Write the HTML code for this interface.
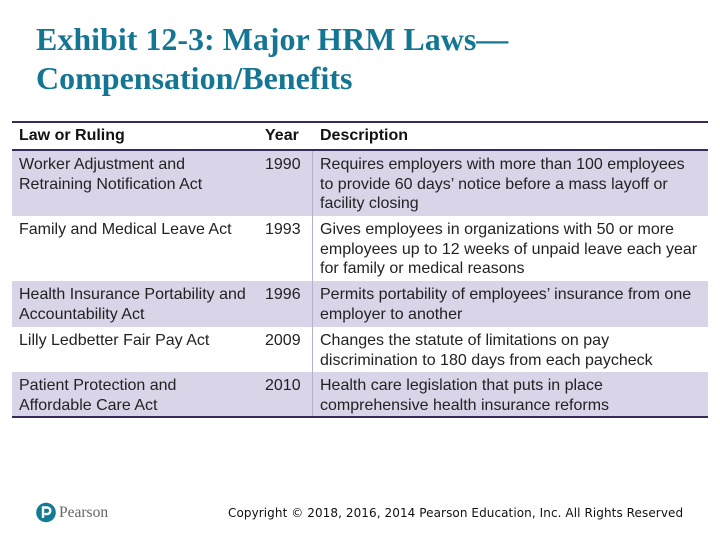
<!DOCTYPE html>
<html>
<head>
<meta charset="utf-8">
<style>
  html, body { margin:0; padding:0; }
  body { width:720px; height:540px; background:#ffffff; position:relative; overflow:hidden; font-family:"Liberation Sans", Arial, sans-serif; }
  .title { position:absolute; left:36px; top:20px; font-family:"Liberation Serif", serif; font-weight:bold; font-size:32px; line-height:39px; color:#157694; white-space:nowrap; }
  .row { position:absolute; left:12px; width:696px; }
  .lav { background:#d9d4e8; }
  .cell { position:absolute; font-size:16px; line-height:19.5px; color:#222; white-space:nowrap; }
  .c1 { left:7px; }
  .c2 { left:253px; }
  .c3 { left:308px; }
  .hdr { color:#111; font-size:16px; font-weight:bold; }
  .line { position:absolute; background:#3a2a5c; }
  .vline { position:absolute; left:312px; top:150px; width:1px; height:267px; background:#b7afcb; }
</style>
</head>
<body>
<div class="title">Exhibit 12-3: Major HRM Laws—<br>Compensation/Benefits</div>

<!-- header -->
<div class="row" style="top:122px;height:28px;">
  <div class="cell c1 hdr" style="top:4px;">Law or Ruling</div>
  <div class="cell c2 hdr" style="top:4px;">Year</div>
  <div class="cell c3 hdr" style="top:4px;">Description</div>
</div>

<div class="row lav" style="top:150px;height:66px;">
  <div class="cell c1" style="top:5px;">Worker Adjustment and<br>Retraining Notification Act</div>
  <div class="cell c2" style="top:5px;">1990</div>
  <div class="cell c3" style="top:5px;">Requires employers with more than 100 employees<br>to provide 60 days’ notice before a mass layoff or<br>facility closing</div>
</div>

<div class="row" style="top:216px;height:65px;">
  <div class="cell c1" style="top:4px;">Family and Medical Leave Act</div>
  <div class="cell c2" style="top:4px;">1993</div>
  <div class="cell c3" style="top:4px;">Gives employees in organizations with 50 or more<br>employees up to 12 weeks of unpaid leave each year<br>for family or medical reasons</div>
</div>

<div class="row lav" style="top:281px;height:46px;">
  <div class="cell c1" style="top:4px;">Health Insurance Portability and<br>Accountability Act</div>
  <div class="cell c2" style="top:4px;">1996</div>
  <div class="cell c3" style="top:4px;">Permits portability of employees’ insurance from one<br>employer to another</div>
</div>

<div class="row" style="top:327px;height:45px;">
  <div class="cell c1" style="top:4px;">Lilly Ledbetter Fair Pay Act</div>
  <div class="cell c2" style="top:4px;">2009</div>
  <div class="cell c3" style="top:4px;">Changes the statute of limitations on pay<br>discrimination to 180 days from each paycheck</div>
</div>

<div class="row lav" style="top:372px;height:45px;">
  <div class="cell c1" style="top:4px;">Patient Protection and<br>Affordable Care Act</div>
  <div class="cell c2" style="top:4px;">2010</div>
  <div class="cell c3" style="top:4px;">Health care legislation that puts in place<br>comprehensive health insurance reforms</div>
</div>

<div class="vline"></div>
<div class="line" style="left:12px;top:121px;width:696px;height:2px;"></div>
<div class="line" style="left:12px;top:149px;width:696px;height:2px;"></div>
<div class="line" style="left:12px;top:416px;width:696px;height:2px;"></div>

<!-- Pearson logo -->
<svg style="position:absolute;left:36px;top:502px;" width="20" height="21" viewBox="0 0 20 21">
  <circle cx="10" cy="10.5" r="9.8" fill="#137a96"/>
  <path d="M7 16 V5.5 H11 A3.3 3.3 0 0 1 11 12.1 H8.4" fill="none" stroke="#ffffff" stroke-width="2.4"/>
</svg>
<div style="position:absolute;left:59px;top:504px;font-family:'Liberation Serif',serif;font-size:15.5px;color:#666;line-height:18px;">Pearson</div>

<div style="position:absolute;left:228px;top:505px;font-family:'DejaVu Sans',Verdana,sans-serif;font-size:12px;letter-spacing:0.08px;color:#111;line-height:16px;white-space:nowrap;">Copyright © 2018, 2016, 2014 Pearson Education, Inc. All Rights Reserved</div>
</body>
</html>
